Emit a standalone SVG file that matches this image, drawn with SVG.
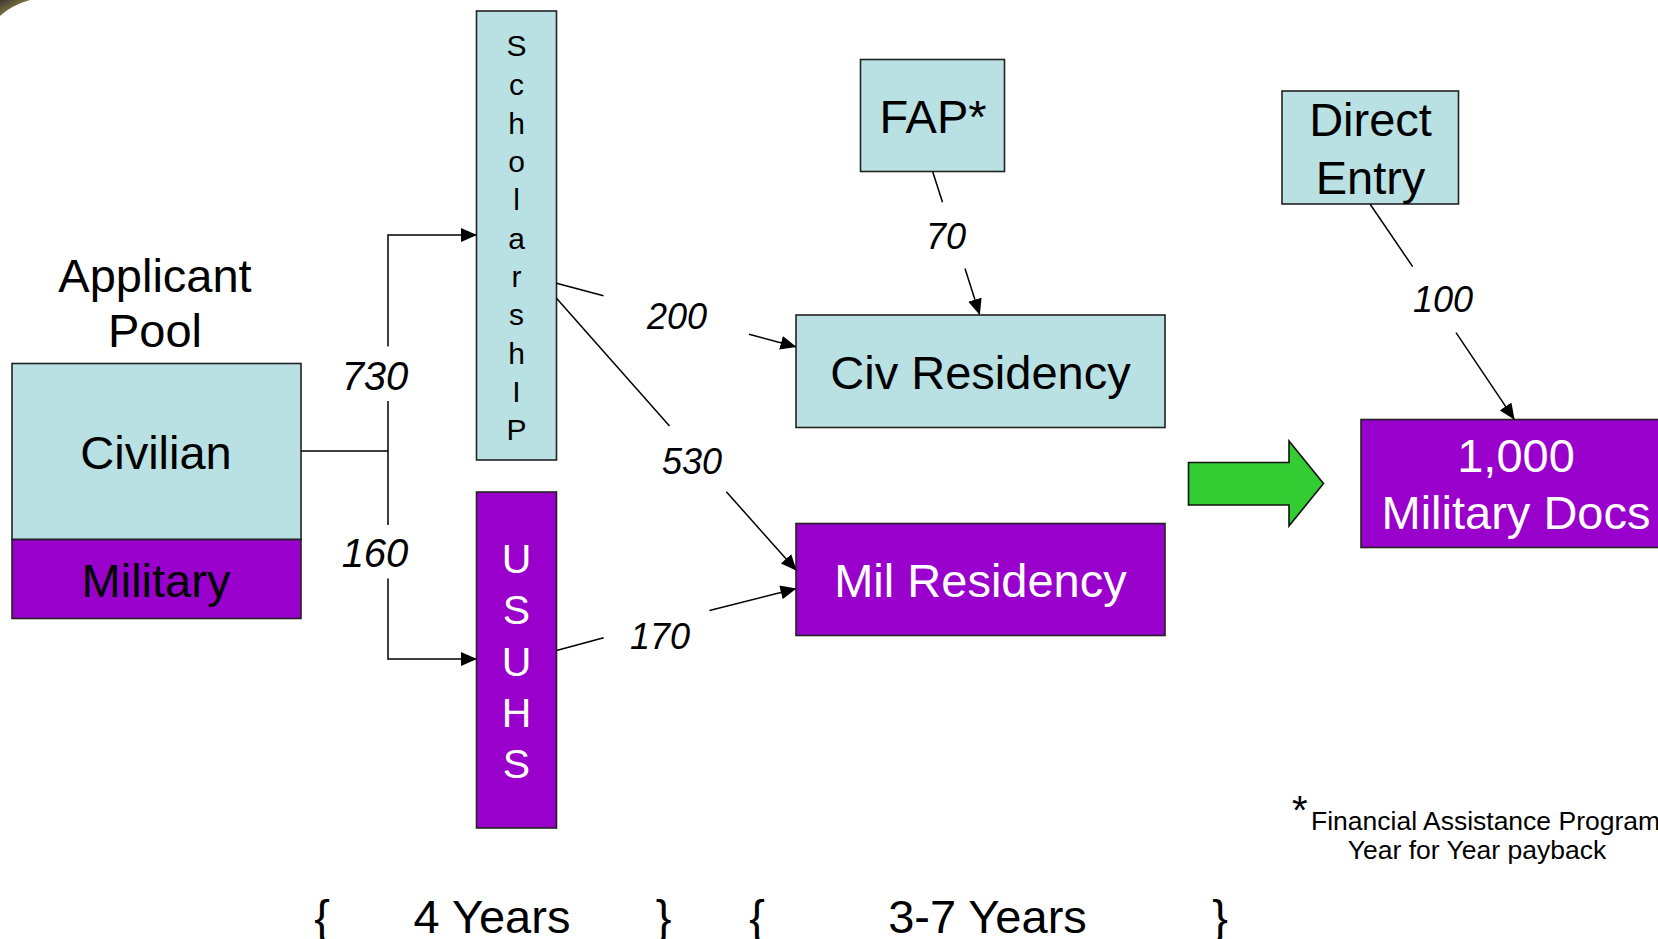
<svg xmlns="http://www.w3.org/2000/svg" width="1658" height="939" viewBox="0 0 1658 939">
  <style>
    .lb { fill: #B9E0E3; stroke: #222; stroke-width: 1.6; }
    .pu { fill: #9900CC; stroke: #222; stroke-width: 1.6; }
    .t { font-family: "Liberation Sans", Arial, sans-serif; font-size: 47px; text-anchor: middle; fill: #000; }
    .w { fill: #fff; }
    .num { font-family: "Liberation Sans", Arial, sans-serif; font-style: italic; font-size: 36px; text-anchor: middle; fill: #000; }
    .big { font-size: 40px; }
    .conn { fill: none; stroke: #000; stroke-width: 1.5; }
    .foot { font-family: "Liberation Sans", Arial, sans-serif; font-size: 26.5px; fill: #000; }
  </style>
  <defs>
    <marker id="ah" markerWidth="16" markerHeight="14" refX="15" refY="7" orient="auto" markerUnits="userSpaceOnUse">
      <path d="M0,0 L16,7 L0,14 Z" fill="#000"/>
    </marker>
    <linearGradient id="corner" x1="0" y1="0" x2="1" y2="1">
      <stop offset="0" stop-color="#3a3a30"/>
      <stop offset="0.6" stop-color="#8a7a45"/>
      <stop offset="1" stop-color="#d8c27a"/>
    </linearGradient>
  </defs>

  <rect x="0" y="0" width="1658" height="939" fill="#fff"/>
  <path d="M0,0 L30,0 Q12,5 0,16 Z" fill="url(#corner)"/>

  <g id="applicant-pool">
    <text class="t" x="155" y="292">Applicant</text>
    <text class="t" x="155" y="347">Pool</text>
    <rect class="lb" x="12" y="363.5" width="289" height="176"/>
    <rect class="pu" x="12" y="539.5" width="289" height="79"/>
    <text class="t" x="156" y="468.5">Civilian</text>
    <text class="t" x="156" y="597">Military</text>
  </g>

  <g id="scholarship">
    <rect class="lb" x="476.5" y="11" width="80" height="449"/>
    <text class="t" style="font-size:30px"><tspan x="516.5" y="56">S</tspan><tspan x="516.5" y="95">c</tspan><tspan x="516.5" y="133.5">h</tspan><tspan x="516.5" y="172">o</tspan><tspan x="516.5" y="210">l</tspan><tspan x="516.5" y="248.5">a</tspan><tspan x="516.5" y="287">r</tspan><tspan x="516.5" y="325">s</tspan><tspan x="516.5" y="363.5">h</tspan><tspan x="516.5" y="402">I</tspan><tspan x="516.5" y="440">P</tspan></text>
  </g>

  <g id="usuhs">
    <rect class="pu" x="476.5" y="492" width="80" height="336"/>
    <text class="t w" style="font-size:41px"><tspan x="516.5" y="573">U</tspan><tspan x="516.5" y="624">S</tspan><tspan x="516.5" y="676">U</tspan><tspan x="516.5" y="727">H</tspan><tspan x="516.5" y="778">S</tspan></text>
  </g>

  <g id="fap">
    <rect class="lb" x="860.5" y="59.5" width="144" height="112"/>
    <text class="t" x="933" y="133">FAP*</text>
  </g>

  <g id="civ-residency">
    <rect class="lb" x="796" y="315" width="369" height="112.5"/>
    <text class="t" x="980.5" y="389">Civ Residency</text>
  </g>

  <g id="mil-residency">
    <rect class="pu" x="796" y="523.5" width="369" height="112"/>
    <text class="t w" x="980.5" y="597">Mil Residency</text>
  </g>

  <g id="direct-entry">
    <rect class="lb" x="1282" y="91" width="176.5" height="113"/>
    <text class="t" x="1370.5" y="135.5">Direct</text>
    <text class="t" x="1370.5" y="193.5">Entry</text>
  </g>

  <g id="military-docs">
    <rect class="pu" x="1361" y="419.5" width="320" height="128"/>
    <text class="t w" x="1516" y="472">1,000</text>
    <text class="t w" x="1516" y="529">Military Docs</text>
  </g>

  <g id="big-arrow">
    <path d="M1188.5,462.5 H1289 V441 L1323.5,483.5 L1289,526 V505 H1188.5 Z" fill="#33CC33" stroke="#111" stroke-width="1.6" stroke-linejoin="miter"/>
  </g>

  <g id="connectors">
    <path class="conn" d="M301,451 H388 M388,401 V525"/>
    <path class="conn" d="M388,346.5 V235 H476" marker-end="url(#ah)"/>
    <path class="conn" d="M388,578.5 V659 H476" marker-end="url(#ah)"/>
    <path class="conn" d="M556.5,283.3 L603.5,295.8"/>
    <path class="conn" d="M749,334.2 L795.5,346.7" marker-end="url(#ah)"/>
    <path class="conn" d="M556.5,298.3 L669.5,426"/>
    <path class="conn" d="M726.3,491.7 L796,570" marker-end="url(#ah)"/>
    <path class="conn" d="M556.5,650.5 L603.7,637.8"/>
    <path class="conn" d="M709.5,610.5 L795.5,588.7" marker-end="url(#ah)"/>
    <path class="conn" d="M932.7,171.7 L942.5,202.3"/>
    <path class="conn" d="M965,268.5 L979.5,314" marker-end="url(#ah)"/>
    <path class="conn" d="M1370,204 L1412.7,266.7"/>
    <path class="conn" d="M1456,332.7 L1514,418.8" marker-end="url(#ah)"/>
  </g>

  <g id="labels">
    <text class="num big" x="375" y="390">730</text>
    <text class="num big" x="375" y="567">160</text>
    <text class="num" x="677" y="328.5">200</text>
    <text class="num" x="692" y="474">530</text>
    <text class="num" x="660" y="649">170</text>
    <text class="num" x="946" y="249">70</text>
    <text class="num" x="1443" y="312">100</text>
  </g>

  <g id="timeline">
    <text class="t" x="322" y="932.5">{</text>
    <text class="t" x="492" y="932.5">4 Years</text>
    <text class="t" x="663.5" y="932.5">}</text>
    <text class="t" x="757" y="932.5">{</text>
    <text class="t" x="987.5" y="932.5">3-7 Years</text>
    <text class="t" x="1220" y="932.5">}</text>
  </g>

  <g id="footnote">
    <text class="foot" x="1292" y="824" style="font-size:40px">*</text>
    <text class="foot" x="1311" y="830">Financial Assistance Program</text>
    <text class="foot" x="1477" y="858.5" text-anchor="middle">Year for Year payback</text>
  </g>
</svg>
